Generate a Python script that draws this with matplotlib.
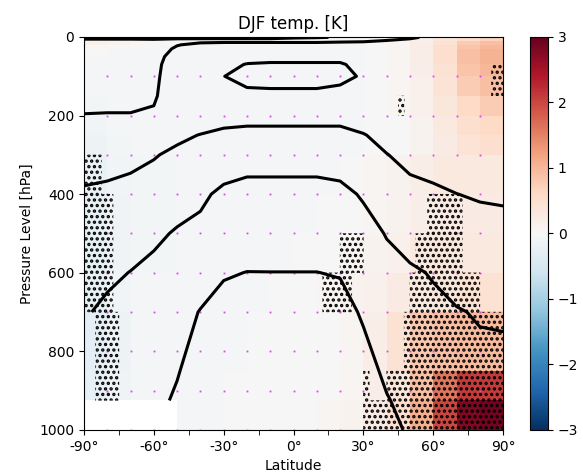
import numpy as np
import matplotlib
matplotlib.use("Agg")
import matplotlib.pyplot as plt

nan = np.nan

# --- climatological temperature (K) used for the black contours ---
t_levels = [1, 10, 20, 30, 50, 70, 100, 150, 200, 250, 300, 400, 500, 600, 700, 850, 925, 1000]
t_lats = [-90, -80, -70, -60, -50, -40, -30, -20, -10, 0, 10, 20, 30, 40, 50, 60, 70, 80, 90]
# one profile per latitude, top (1 hPa) to bottom (1000 hPa)
t_profiles = [
    [260, 240, 236, 234, 232, 231, 230, 227, 224.8, 222, 222, 225.8, 235, 242, 248, nan, nan, nan],
    [260, 240, 236, 234, 232, 231, 230, 228, 224.5, 221, 221, 227, 236, 246, 254, 262, 266, nan],
    [260, 240, 236, 234, 232, 231, 230, 228, 224.5, 221, 221.5, 229, 240, 250.5, 257, 265, 268, nan],
    [260, 242, 238, 235, 231, 229.5, 228.5, 227, 223, 221, 224, 232, 246, 255, 262, 268, 271, nan],
    [262, 232, 226, 222, 218, 216, 215, 214, 216, 222, 228, 240, 252, 260, 266, 274, 277, 279],
    [262, 230, 220, 216, 212, 210, 209, 210, 216, 225.5, 233, 246.5, 254.5, 264, 276, 282, 285, 288],
    [262, 229, 219, 214, 208, 203, 200.2, 205, 216, 230, 238, 254, 263, 273.5, 281, 288, 291, 294],
    [262, 229, 219, 212, 204, 199.5, 196, 203, 218, 231, 241, 257, 265, 275.3, 282, 290, 293, 296],
    [262, 229, 219, 211, 203, 199, 195, 203, 218, 231, 241, 257, 266, 275.2, 282, 290, 294, 297],
    [255, 229, 219, 211, 203, 199, 195, 203, 218, 231, 241, 257, 266, 275.2, 282, 290, 294, 297],
    [252, 229, 219, 211, 203, 199, 195, 203, 218, 231, 241, 257, 266, 275.2, 282, 290, 294, 297],
    [248, 228, 218, 211, 203, 199, 196, 205, 218, 231, 240, 255, 265, 274, 281, 289, 292, 295],
    [240, 227, 218, 212, 206, 203, 201.7, 206, 215, 226, 233, 248, 257, 266, 273, 281, 285, 288],
    [232, 224, 217, 212, 208, 206, 205, 208, 214, 219, 225.5, 236, 249, 256, 263, 272, 276, 279],
    [227, 222, 216, 212, 209, 207, 206, 207, 212, 216, 220, 230, 244, 252, 258, 266, 270, 273.3],
    [222, 218, 214, 211, 209, 208, 207, 207, 210, 213, 216, 228.5, 239, 249, 253, 258, 262, 265],
    [218, 214, 211, 209, 207, 206, 205, 205, 207, 210, 213, 225.2, 236, 245, 250.8, 256, 259, 261],
    [216, 212, 209, 207, 205, 204, 203, 203, 205, 208, 211, 223, 233, 242, 249, 253, 255, 256],
    [215, 211, 208, 206, 204, 203, 202, 202, 204, 207, 210, 222, 232, 241, 248, 254, 256, 257],
]
t_contours = [200, 225, 250, 275]

# --- DJF temperature change (K), cells between these edges ---
lat_edges = [-90, -80, -70, -60, -50, -40, -30, -20, -10, 0, 10, 20, 30, 40, 50, 60, 70, 80, 90]
p_edges = [0, 10, 20, 30, 50, 70, 100, 150, 200, 250, 300, 400, 500, 600, 700, 850, 925, 1000]
dtemp = [
    [0.2, 0.2, 0.15, 0.1, 0.05, 0.0, 0.0, 0.0, 0.0, 0.0, 0.0, 0.0, 0.0, 0.05, 0.15, 0.35, 0.55, 0.7],
    [0.15, 0.1, 0.05, 0.0, 0.0, -0.05, -0.05, -0.05, -0.05, -0.05, -0.05, 0.0, 0.0, 0.05, 0.2, 0.45, 0.75, 0.9],
    [0.05, 0.0, 0.0, -0.05, -0.05, -0.05, -0.05, -0.05, -0.05, -0.05, -0.05, -0.05, 0.0, 0.05, 0.2, 0.5, 0.85, 1.0],
    [0.0, -0.05, -0.05, -0.05, -0.05, -0.05, -0.05, -0.05, -0.05, -0.05, -0.05, -0.05, 0.0, 0.05, 0.2, 0.5, 0.9, 1.05],
    [-0.05, -0.05, -0.05, -0.05, -0.05, -0.05, -0.05, -0.05, -0.05, -0.05, -0.05, -0.05, 0.0, 0.05, 0.2, 0.5, 0.9, 1.05],
    [-0.05, -0.05, -0.05, -0.05, -0.05, -0.05, -0.05, -0.05, -0.05, -0.05, -0.05, -0.05, 0.0, 0.05, 0.2, 0.45, 0.85, 1.0],
    [-0.05, -0.05, -0.05, -0.05, -0.05, -0.05, -0.05, -0.05, -0.05, -0.05, -0.05, -0.05, 0.0, 0.05, 0.15, 0.4, 0.75, 0.9],
    [-0.08, -0.05, -0.05, -0.05, -0.05, -0.05, -0.05, -0.05, -0.05, -0.05, -0.05, -0.05, 0.0, 0.05, 0.15, 0.35, 0.6, 0.75],
    [-0.1, -0.05, -0.05, -0.05, -0.05, -0.05, -0.05, -0.05, -0.05, -0.05, -0.05, -0.05, 0.0, 0.0, 0.1, 0.3, 0.5, 0.6],
    [-0.15, -0.08, -0.05, -0.05, -0.05, -0.05, -0.05, -0.05, -0.05, -0.05, -0.05, -0.05, 0.0, 0.0, 0.1, 0.25, 0.4, 0.5],
    [-0.2, -0.1, -0.08, -0.08, -0.05, -0.05, -0.05, -0.05, -0.05, -0.05, -0.05, 0.0, 0.05, 0.1, 0.2, 0.3, 0.3, 0.3],
    [-0.25, -0.12, -0.08, -0.08, -0.05, -0.05, -0.05, -0.05, -0.05, -0.05, 0.0, 0.0, 0.05, 0.1, 0.2, 0.25, 0.25, 0.25],
    [-0.25, -0.12, -0.08, -0.08, -0.05, -0.05, -0.05, -0.05, -0.05, 0.0, 0.0, 0.05, 0.1, 0.15, 0.3, 0.35, 0.3, 0.3],
    [-0.25, -0.1, -0.05, -0.05, -0.05, -0.05, -0.05, -0.05, 0.0, 0.0, 0.05, 0.1, 0.15, 0.25, 0.3, 0.35, 0.45, 0.45],
    [-0.3, -0.15, -0.05, -0.05, -0.05, -0.05, -0.05, 0.0, 0.0, 0.0, 0.0, 0.05, 0.2, 0.45, 0.8, 0.9, 0.95, 0.95],
    [-0.25, -0.12, -0.05, -0.05, -0.05, -0.05, 0.0, 0.0, 0.0, 0.0, 0.0, 0.05, 0.2, 0.35, 0.9, 1.6, 2.1, 2.1],
    [nan, nan, nan, nan, -0.05, -0.05, 0.0, 0.0, 0.0, 0.0, 0.05, 0.1, 0.25, 0.5, 1.1, 2.0, 2.8, 2.9],
]

# significant areas: (p_top, p_bottom, lat_from, lat_to)
sig_regions = [
    (300, 400, -90, -82.5),
    (400, 700, -90, -77.5),
    (700, 925, -85, -75),
    (600, 700, 12.5, 25),
    (500, 600, 20, 30),
    (150, 200, 45, 47.5),
    (70, 150, 85, 90),
    (400, 500, 57.5, 72.5),
    (500, 600, 52.5, 72.5),
    (600, 700, 50, 80),
    (700, 850, 47.5, 90),
    (850, 925, 30, 32.5),
    (850, 925, 40, 90),
    (925, 1000, 30, 90),
]

# marker grid
dot_lats = [-80, -70, -60, -50, -40, -30, -20, -10, 0, 10, 20, 30, 40, 50, 60, 70, 80]
dot_levels = [100, 200, 300, 400, 500, 600, 700, 800, 900, 1000]

plt.rcParams['hatch.color'] = 'black'
plt.rcParams['hatch.linewidth'] = 1.6

fig = plt.figure(figsize=(5.83, 4.74), dpi=100)
ax = fig.add_axes([0.144, 0.093, 0.719, 0.829])
cax = fig.add_axes([0.909, 0.093, 0.031, 0.829])

anom = np.ma.masked_invalid(np.array(dtemp))
mesh = ax.pcolormesh(lat_edges, p_edges, anom, cmap='RdBu_r', vmin=-3, vmax=3, shading='flat')

dx, dy = np.meshgrid(dot_lats, dot_levels)
ax.plot(dx.ravel(), dy.ravel(), ls='none', marker='s', ms=1.3, mew=0, color='#e040f0', zorder=2)

# stippling of significant cells
lat_f = np.linspace(-90, 90, 721)
p_f = np.linspace(0, 1000, 1001)
sig = np.zeros((p_f.size, lat_f.size))
for pt, pb, l0, l1 in sig_regions:
    rows = (p_f >= pt) & (p_f <= pb)
    cols = (lat_f >= l0) & (lat_f <= l1)
    sig[np.ix_(rows, cols)] = 1
ax.contourf(lat_f, p_f, sig, levels=[0.5, 1.5], colors='none', hatches=['...'], zorder=3)

temp = np.ma.masked_invalid(np.array(t_profiles).T)
ax.contour(t_lats, t_levels, temp, levels=t_contours, colors='k', linewidths=2.2,
           corner_mask=False, zorder=4)

ax.set_xlim(-90, 90)
ax.set_ylim(1000, 0)
ax.set_xticks(np.arange(-90, 91, 30))
ax.set_xticklabels([f"{v}°" for v in range(-90, 91, 30)])
ax.set_xticks(np.arange(-75, 90, 30), minor=True)
ax.tick_params(axis='x', which='minor', length=3.5)
ax.set_yticks(np.arange(0, 1001, 200))
ax.set_xlabel('Latitude')
ax.set_ylabel('Pressure Level [hPa]')
ax.set_title('DJF temp. [K]')

cb = fig.colorbar(mesh, cax=cax)
cb.set_ticks([-3, -2, -1, 0, 1, 2, 3])

fig.savefig('out.png', dpi=100)
